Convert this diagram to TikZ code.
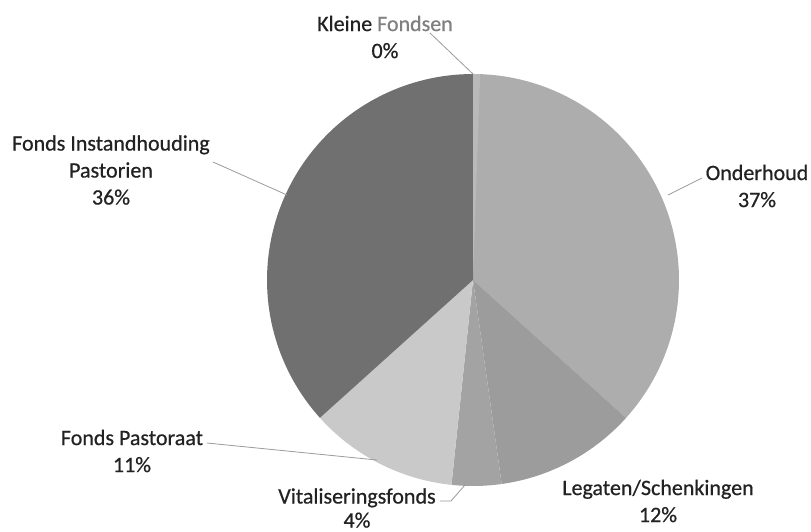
\documentclass[tikz,border=0pt]{standalone}
\usepackage{fontspec}
\setmainfont{Carlito}[FakeBold=0.6]
\definecolor{cOnd}{HTML}{ADADAD}
\definecolor{cLeg}{HTML}{9C9C9C}
\definecolor{cVit}{HTML}{A3A3A3}
\definecolor{cPas}{HTML}{C9C9C9}
\definecolor{cIns}{HTML}{707070}
\definecolor{cKle}{HTML}{B9B9B9}
\definecolor{labelgray}{HTML}{222222}
\definecolor{leadergray}{HTML}{9A9A9A}
\begin{document}
\begin{tikzpicture}[x=1pt,y=-1pt,
  lbl/.style={font=\fontsize{22}{27}\selectfont, text=labelgray, align=center, inner sep=0pt},
  leader/.style={draw=leadergray, line width=0.8pt}]
\useasboundingbox (0,0) rectangle (811,532);
% pie slices (angles: clockwise from top, mapped to alpha = theta - 90)
\begin{scope}[shift={(473,280)}]
  \fill[cOnd] (0,0) -- plot[domain=-90:42, samples=80] (\x:206) -- cycle;
  \fill[cLeg] (0,0) -- plot[domain=42:82, samples=40] (\x:206) -- cycle;
  \fill[cVit] (0,0) -- plot[domain=82:96, samples=20] (\x:206) -- cycle;
  \fill[cPas] (0,0) -- plot[domain=96:138, samples=40] (\x:206) -- cycle;
  \fill[cIns] (0,0) -- plot[domain=138:270, samples=80] (\x:206) -- cycle;
  \fill[cKle] (0,0) -- plot[domain=-90:-88, samples=5] (\x:206) -- cycle;
  \coordinate (pTop) at (-90:206);
\end{scope}
% labels
\node[lbl] (kle) at (385,37) {Kleine \textcolor{gray}{Fondsen}\\0\%};
\node[lbl] (ond) at (757,186) {Onderhoud\\37\%};
\node[lbl] (ins) at (111,170) {Fonds Instandhouding\\Pastorien\\36\%};
\node[lbl] (pas) at (132,451) {Fonds Pastoraat\\11\%};
\node[lbl, font=\fontsize{22}{24}\selectfont] (vit) at (357,508) {Vitaliseringsfonds\\4\%};
\node[lbl] (leg) at (658,501) {Legaten/Schenkingen\\12\%};
% leader lines
\coordinate (kleA) at (430,33);
\coordinate (ondA) at (668,195);
\coordinate (ondB) at (702,178);
\coordinate (insA) at (213,162);
\coordinate (insB) at (287,195);
\coordinate (pasA) at (207,443);
\coordinate (pasB) at (377,460);
\coordinate (vitA) at (440,501);
\coordinate (vitB) at (451,501);
\coordinate (vitC) at (465,485);
\draw[leader] (kleA) -- (pTop);
\draw[leader] (ondA) -- (ondB);
\draw[leader] (insA) -- (insB);
\draw[leader] (pasA) -- (pasB);
\draw[leader] (vitA) -- (vitB) -- (vitC);
\end{tikzpicture}
\end{document}
